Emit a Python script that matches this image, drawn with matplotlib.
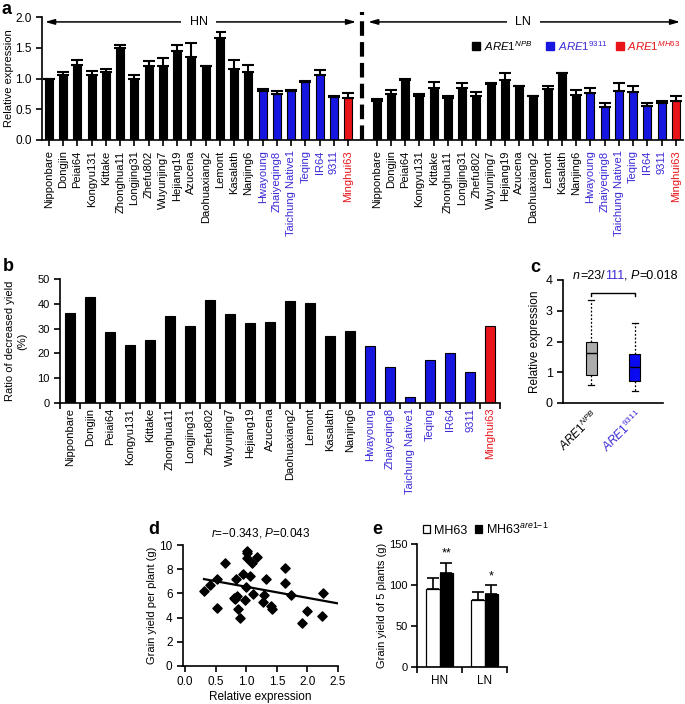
import matplotlib
matplotlib.use('Agg')
import matplotlib.pyplot as plt
import matplotlib.transforms as mtransforms
import numpy as np

plt.rcParams['font.family'] = ['Liberation Sans', 'DejaVu Sans']
plt.rcParams['mathtext.fontset'] = 'custom'
plt.rcParams['mathtext.rm'] = 'Liberation Sans'
plt.rcParams['mathtext.it'] = 'Liberation Sans:italic'
plt.rcParams['mathtext.bf'] = 'Liberation Sans:bold'
plt.rcParams['axes.linewidth'] = 1.2
plt.rcParams['xtick.major.width'] = 1.2
plt.rcParams['ytick.major.width'] = 1.2
plt.rcParams['xtick.minor.width'] = 1.2
plt.rcParams['xtick.major.size'] = 4
plt.rcParams['ytick.major.size'] = 4
plt.rcParams['xtick.minor.size'] = 4
plt.rcParams['font.size'] = 8

# ---------------- data ----------------
varieties = ['Nipponbare', 'Dongjin', 'Peiai64', 'Kongyu131', 'Kittake', 'Zhonghua11',
             'Longjing31', 'Zhefu802', 'Wuyunjing7', 'Hejiang19', 'Azucena', 'Daohuaxiang2',
             'Lemont', 'Kasalath', 'Nanjing6', 'Hwayoung', 'Zhaiyeqing8', 'Taichung Native1',
             'Teqing', 'IR64', '9311', 'Minghui63']
allele = ['NPB'] * 15 + ['9311'] * 6 + ['MH63']

hn_mean = [1.00, 1.06, 1.22, 1.06, 1.10, 1.49, 1.00, 1.21, 1.20, 1.45, 1.35, 1.21,
           1.66, 1.16, 1.11, 0.79, 0.75, 0.79, 0.95, 1.06, 0.70, 0.68]
hn_err = [0.0, 0.05, 0.08, 0.06, 0.05, 0.05, 0.05, 0.08, 0.13, 0.09, 0.22, 0.0,
          0.10, 0.14, 0.11, 0.04, 0.05, 0.03, 0.01, 0.08, 0.01, 0.09]
ln_mean = [0.64, 0.745, 0.97, 0.71, 0.84, 0.69, 0.84, 0.71, 0.91, 0.97, 0.88, 0.72,
           0.83, 1.09, 0.73, 0.76, 0.53, 0.79, 0.78, 0.55, 0.60, 0.64]
ln_err = [0.03, 0.06, 0.03, 0.04, 0.11, 0.03, 0.08, 0.07, 0.01, 0.12, 0.0, 0.0,
          0.04, 0.0, 0.09, 0.08, 0.07, 0.13, 0.10, 0.05, 0.03, 0.07]

yield_decrease = [36.2, 42.7, 28.5, 23.2, 25.5, 34.9, 31.1, 41.6, 35.7, 32.1, 32.5, 41.3,
                  40.3, 27.0, 28.9, 22.8, 14.4, 2.4, 17.2, 20.1, 12.6, 30.9]

box_labels = ['NPB', '9311']
box_whislo = [0.57, 0.40]
box_q1 = [0.92, 0.72]
box_med = [1.62, 1.18]
box_q3 = [1.97, 1.60]
box_whishi = [3.35, 2.60]

scatter_expr = [0.31, 0.41, 0.53, 0.52, 0.66, 0.83, 0.80, 0.85, 0.81, 0.87, 0.90, 0.95,
                0.98, 0.99, 1.02, 1.02, 1.02, 1.06, 1.10, 1.17, 1.11, 1.32, 1.29, 1.28,
                1.41, 1.42, 1.63, 1.64, 1.74, 1.91, 1.99, 2.24, 2.26]
scatter_yield = [6.19, 6.69, 7.18, 4.81, 8.48, 7.15, 5.64, 5.77, 5.55, 4.75, 4.00, 7.57,
                 5.44, 6.55, 9.50, 9.30, 8.90, 7.43, 8.54, 9.03, 5.99, 7.18, 5.86, 5.25,
                 4.94, 4.75, 6.88, 8.07, 5.83, 3.56, 4.53, 4.14, 6.05]

e_groups = ['HN', 'LN']
e_mh63 = [95.5, 82.0]
e_mh63_err = [12.5, 9.4]
e_are1 = [114.8, 89.3]
e_are1_err = [12.3, 10.3]
e_sig = ['**', '*']

# ---------------- styles ----------------
BAR_COL = {'NPB': 'black', '9311': '#1616e0', 'MH63': '#e8141a'}
TXT_COL = {'NPB': 'black', '9311': '#3a2ad6', 'MH63': '#e8141a'}

W, H = 685, 704
fig = plt.figure(figsize=(W / 100, H / 100), dpi=100)


def ax_px(l, r, t, b):
    return fig.add_axes([l / W, 1 - b / H, (r - l) / W, (b - t) / H])


def clean(ax):
    ax.spines['top'].set_visible(False)
    ax.spines['right'].set_visible(False)


def seq_text(ax, x, y, parts, **kw):
    """Draw consecutive text pieces with individual styles."""
    renderer = fig.canvas.get_renderer()
    tr = ax.transData
    for s, st in parts:
        t = ax.text(x, y, s, transform=tr, clip_on=False, **kw, **st)
        t.draw(renderer)
        ex = t.get_window_extent(renderer)
        tr = mtransforms.offset_copy(t.get_transform(), fig=fig, x=ex.width, units='dots')


# ---------------- panel a ----------------
axa = ax_px(42, 683, 17, 140)
clean(axa)
n = len(varieties)
x_hn = np.arange(n)
x_ln = np.arange(n) + n + 1
cols = [BAR_COL[a] for a in allele]
for xs, m, e in [(x_hn, hn_mean, hn_err), (x_ln, ln_mean, ln_err)]:
    axa.bar(xs, m, width=0.56, color=cols, edgecolor='black', linewidth=0.8, zorder=2)
    axa.errorbar(xs, m, yerr=[np.zeros(n), e], fmt='none', ecolor='black',
                 elinewidth=1.5, capsize=4, capthick=1.5, zorder=3)
axa.set_xlim(-0.49, 2 * n + 0.5)
axa.set_ylim(0, 2.0)
axa.set_yticks([0, 0.5, 1.0, 1.5, 2.0])
axa.set_yticklabels(['0.0', '0.5', '1.0', '1.5', '2.0'], fontsize=8.5)
xt = np.concatenate([x_hn, x_ln])
axa.set_xticks(xt)
axa.set_xticklabels(varieties + varieties, rotation=90, fontsize=8)
for lab, a in zip(axa.get_xticklabels(), allele + allele):
    lab.set_color(TXT_COL[a])
axa.set_ylabel('Relative expression', fontsize=8)
axa.yaxis.set_label_coords(-0.043, 0.5)
# divider
axa.plot([n, n], [0, 2.08], color='black', lw=3, ls=(0, (3.5, 1.5)), clip_on=False, zorder=4)
# arrows
for (x0, x1, lab, xc) in [(-0.28, 21.56, 'HN', 10.5), (22.4, 44.3, 'LN', 33.3)]:
    axa.annotate('', xy=(x0, 1.92), xytext=(x1, 1.92),
                 arrowprops=dict(arrowstyle='<|-|>,head_length=0.7,head_width=0.2',
                                 lw=1.1, color='black', shrinkA=0, shrinkB=0), zorder=3)
    axa.text(xc, 1.92, lab, ha='center', va='center', fontsize=9,
             bbox=dict(facecolor='white', edgecolor='none', pad=6), zorder=4)
# legend (manual)
leg_keys = ['NPB', '9311', 'MH63']
leg_sq_x = [30.0, 35.2, 40.1]
leg_txt = [r'$\mathit{ARE1}^{\mathit{NPB}}$', r'$\mathit{ARE1}^{\mathit{9311}}$',
           r'$\mathit{ARE1}^{\mathit{MH63}}$']
for k, xs_, lt in zip(leg_keys, leg_sq_x, leg_txt):
    axa.plot([xs_], [1.53], marker='s', ms=6, color=BAR_COL[k], ls='none', clip_on=False)
    axa.text(xs_ + 0.5, 1.53, lt, color=TXT_COL[k], fontsize=8.2, ha='left', va='center',
             clip_on=False)

# ---------------- panel b ----------------
axb = ax_px(60, 500, 279, 403)
clean(axb)
xb = np.arange(n)
axb.bar(xb, yield_decrease, width=0.5, color=cols, edgecolor='black', linewidth=0.8)
axb.set_xlim(-0.5, n - 0.5)
axb.set_ylim(0, 50)
axb.set_yticks([0, 10, 20, 30, 40, 50])
axb.set_xticks(xb)
axb.set_xticklabels(varieties, rotation=90, fontsize=8)
axb.tick_params(axis='x', which='major', length=0)
axb.set_xticks(np.arange(n + 1) - 0.5, minor=True)
axb.tick_params(axis='x', which='minor', length=4)
for lab, a in zip(axb.get_xticklabels(), allele):
    lab.set_color(TXT_COL[a])
axb.set_ylabel('Ratio of decreased yield\n(%)', fontsize=8, linespacing=1.3)
axb.yaxis.set_label_coords(-0.075, 0.5)

# ---------------- panel c ----------------
axc = ax_px(563, 663, 280, 403)
clean(axc)
stats = []
for i in range(2):
    stats.append(dict(med=box_med[i], q1=box_q1[i], q3=box_q3[i],
                      whislo=box_whislo[i], whishi=box_whishi[i], fliers=[], label=box_labels[i]))
bp = axc.bxp(stats, positions=[1, 2], widths=0.25, patch_artist=True, showfliers=False,
             medianprops=dict(color='black', lw=1.0),
             whiskerprops=dict(color='black', lw=0.9, ls=(0, (1.5, 1.5))),
             capprops=dict(color='black', lw=0.9),
             boxprops=dict(edgecolor='black', lw=0.8))
for patch, c in zip(bp['boxes'], ['#ababab', '#0a0af0']):
    patch.set_facecolor(c)
for cap in bp['caps']:
    xd = cap.get_xdata()
    mid = np.mean(xd)
    cap.set_xdata([mid - 0.06, mid + 0.06])
axc.set_xlim(0.36, 2.64)
axc.set_ylim(0, 4)
axc.set_yticks([0, 1, 2, 3, 4])
axc.set_yticklabels(['0', '1', '2', '3', '4'], fontsize=9)
axc.set_xticks([1, 2])
axc.set_xticklabels([r'$\mathit{ARE1}^{\mathit{NPB}}$', r'$\mathit{ARE1}^{\mathit{9311}}$'],
                    rotation=45, ha='right', rotation_mode='anchor', fontsize=8.5)
axc.get_xticklabels()[1].set_color(TXT_COL['9311'])
axc.tick_params(axis='x', length=0)
axc.set_ylabel('Relative expression', fontsize=8.5)
axc.yaxis.set_label_coords(-0.22, 0.5)
axc.plot([1, 1, 2, 2], [3.48, 3.59, 3.59, 3.48], color='black', lw=1.0)

fig.canvas.draw()
seq_text(axc, 0.59, 4.13,
         [('n', dict(color='black', fontstyle='italic')),
          ('=23/', dict(color='black')),
          ('111', dict(color=TXT_COL['9311'])),
          (', ', dict(color='black')),
          ('P', dict(color='black', fontstyle='italic')),
          ('=0.018', dict(color='black'))],
         fontsize=9, va='center', ha='left')

# ---------------- panel d ----------------
axd = ax_px(183, 338, 545, 666)
clean(axd)
axd.scatter(scatter_expr, scatter_yield, marker='D', s=22, color='black', zorder=3)
coef = np.polyfit(scatter_expr, scatter_yield, 1)
xl = np.array([min(scatter_expr), 2.5])
axd.plot(xl, np.polyval(coef, xl), color='black', lw=1.6)
axd.set_xlim(-0.033, 2.5)
axd.set_ylim(0, 10)
axd.set_xticks([0, 0.5, 1.0, 1.5, 2.0, 2.5])
axd.set_xticklabels(['0.0', '0.5', '1.0', '1.5', '2.0', '2.5'], fontsize=8.5)
axd.set_yticks([0, 2, 4, 6, 8, 10])
axd.set_yticklabels(['0', '2', '4', '6', '8', '10'], fontsize=8.5)
axd.set_xlabel('Relative expression', fontsize=8.5, labelpad=2)
axd.set_ylabel('Grain yield per plant (g)', fontsize=8)
axd.yaxis.set_label_coords(-0.165, 0.5)
axd.set_title(r'$r$=−0.343, $P$=0.043', fontsize=8.5, pad=6)

# ---------------- panel e ----------------
axe = ax_px(417, 507, 544, 667)
clean(axe)
xe = np.arange(len(e_groups))
axe.bar(xe - 0.15, e_mh63, width=0.3, color='white', edgecolor='black', lw=0.9,
        yerr=[np.zeros(2), e_mh63_err], capsize=4, error_kw=dict(elinewidth=1.2, capthick=1.2),
        label='MH63')
axe.bar(xe + 0.15, e_are1, width=0.3, color='black', edgecolor='black', lw=0.9,
        yerr=[np.zeros(2), e_are1_err], capsize=4, error_kw=dict(elinewidth=1.2, capthick=1.2),
        label=r'MH63$^{\mathit{are1}\mathit{-1}}$')
for xi, m, e, s in zip(xe, e_are1, e_are1_err, e_sig):
    axe.text(xi + 0.15, m + e + 4, s, ha='center', va='bottom', fontsize=9)
axe.set_xlim(-0.5, 1.5)
axe.set_ylim(0, 150)
axe.set_yticks([0, 50, 100, 150])
axe.set_yticklabels(['0', '50', '100', '150'], fontsize=8)
axe.tick_params(axis='y', pad=2.5)
axe.set_xticks(xe)
axe.set_xticklabels(e_groups, fontsize=8.5)
axe.tick_params(axis='x', which='major', length=0, pad=6)
axe.set_xticks([-0.5, 0.5, 1.5], minor=True)
axe.set_ylabel('Grain yield of 5 plants (g)', fontsize=8)
axe.yaxis.set_label_coords(-0.33, 0.5)
axe.legend(ncol=2, frameon=False, fontsize=9, loc='lower left', bbox_to_anchor=(-0.02, 1.0),
           handlelength=0.6, handleheight=0.6, handletextpad=0.3, columnspacing=0.6,
           borderaxespad=0.2)

# ---------------- panel letters ----------------
for lab, (px, py) in {'a': (2, 9), 'b': (3, 266), 'c': (530, 267), 'd': (148, 530),
                      'e': (372, 530)}.items():
    fig.text(px / W, 1 - py / H, lab, fontsize=13, fontweight='bold', va='center', ha='left')

fig.savefig('out.png', dpi=100)
